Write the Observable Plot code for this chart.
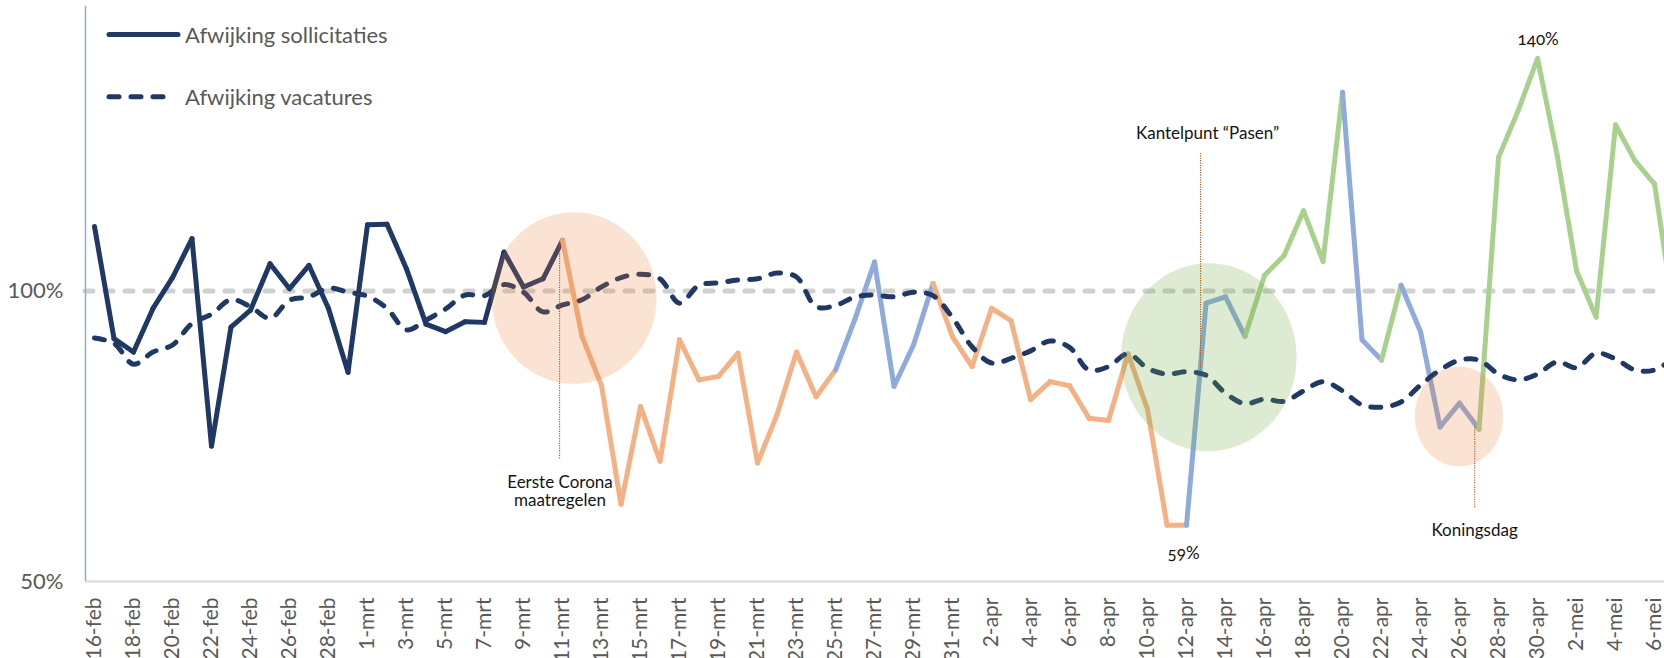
<!DOCTYPE html>
<html>
<head>
<meta charset="utf-8">
<script src="https://cdn.jsdelivr.net/npm/d3@7"></script>
<script src="https://cdn.jsdelivr.net/npm/@observablehq/plot@0.6"></script>
<style>
  html, body { margin: 0; padding: 0; background: #ffffff; }
  #wrap { position: relative; width: 1664px; height: 658px; overflow: hidden; background: #fff; }
  #legend { position: absolute; left: 0; top: 0; }
</style>
</head>
<body>
<div id="wrap">
  <div id="chart"></div>
  <svg id="legend" width="440" height="125"></svg>
</div>
<script>
// ---------- data ----------
const startDatum = "2020-02-16";
const maanden = ["jan", "feb", "mrt", "apr", "mei"];

// Afwijking sollicitaties (%), one value per day from 16-feb
const sollicitaties = [
  111.1, 91.8, 89.5, 97.0, 102.3, 109.0, 73.3, 93.8, 96.7, 104.7,
  100.4, 104.4, 97.0, 86.0, 111.4, 111.5, 103.8, 94.3, 93.0, 94.7,
  94.6, 106.7, 100.7, 102.1, 108.7, 92.2, 83.7, 63.3, 80.1, 70.7,
  91.6, 84.7, 85.3, 89.3, 70.4, 78.7, 89.5, 81.8, 86.4, 95.2,
  105.0, 83.6, 90.7, 101.3, 92.1, 87.0, 97.0, 94.9, 81.3, 84.4,
  83.7, 78.1, 77.7, 89.2, 79.6, 59.7, 59.7, 97.9, 99.0, 92.2,
  102.7, 106.1, 113.8, 105.1, 134.2, 91.6, 88.1, 101.0, 93.0, 76.6,
  80.7, 76.2, 123.0, 131.0, 140.0, 123.5, 103.5, 95.5, 128.6, 122.4,
  118.4, 96.0
];

// Afwijking vacatures (%)
const vacatures = [
  91.9, 91.0, 87.4, 89.5, 90.7, 94.4, 96.0, 98.5, 97.3, 95.3,
  98.4, 99.0, 100.5, 99.8, 99.1, 97.0, 93.3, 95.0, 96.9, 99.3,
  99.2, 101.1, 99.8, 96.4, 97.6, 98.5, 100.7, 102.3, 102.9, 102.1,
  97.9, 101.0, 101.4, 101.9, 102.1, 103.1, 102.4, 97.3, 97.5, 99.0,
  99.3, 99.0, 99.8, 99.2, 95.4, 90.4, 87.6, 88.4, 89.7, 91.4,
  90.3, 86.4, 87.0, 89.2, 86.7, 85.7, 86.1, 85.5, 82.4, 80.6,
  81.4, 81.0, 82.8, 84.4, 82.8, 80.4, 80.0, 80.9, 83.8, 86.4,
  88.1, 88.1, 85.7, 84.7, 85.7, 87.8, 86.8, 89.3, 88.3, 86.4,
  86.4, 88.5
];

// phase of each segment of the sollicitaties line (n = voor, o = daling, b = omslag, g = stijging)
const fase = (
  "nnnnnnnnnnnnnnnnnnnnnnnn" +
  "oooooooooooooo" +
  "bbbbb" +
  "ooooooooooooo" +
  "bbb" +
  "ggggg" +
  "bb" +
  "g" +
  "bbbb" +
  "gggggggggg"
).split("");
const faseDomein = ["n", "o", "b", "g"];
const faseKleuren = ["#1F3864", "#F4B183", "#8FAADC", "#A9D18E"];

const yTicks = [50, 100];
const xTicks = d3.range(0, 81, 2);

// highlighted areas (day index, value)
const cirkels = [
  { dag: 24.59, waarde: 98.8 },   // Eerste Corona maatregelen
  { dag: 57.14, waarde: 88.6 },   // Pasen
  { dag: 69.97, waarde: 78.4 }    // Koningsdag
];
// annotation leader lines
const lijnen = [
  { dag: 23.85, van: 71.1, tot: 108.7 },
  { dag: 56.72, van: 86.3, tot: 123.7 },
  { dag: 70.78, van: 62.7, tot: 76.8 }
];
// annotation texts
const annotaties = [
  { dag: 23.87, waarde: 65.5, tekst: "Eerste Corona\nmaatregelen" },
  { dag: 57.08, waarde: 127.1, tekst: "Kantelpunt \u201CPasen\u201D" },
  { dag: 55.85, waarde: 54.9, tekst: "59%" },
  { dag: 74.03, waarde: 143.3, tekst: "140%" },
  { dag: 70.77, waarde: 58.9, tekst: "Koningsdag" }
];

// ---------- derived tables ----------
const datumLabel = i => {
  const d = d3.utcDay.offset(new Date(startDatum), i);
  return `${d.getUTCDate()}-${maanden[d.getUTCMonth()]}`;
};
const vacData = vacatures.map((v, i) => ({ dag: i, waarde: v }));
const segmenten = fase.map((f, i) => ({
  x1: i, y1: sollicitaties[i], x2: i + 1, y2: sollicitaties[i + 1], fase: f
}));

function ellips(aspect) {
  const k = 0.5522847498;
  return {
    draw(context, size) {
      const ry = Math.sqrt(size / Math.PI), rx = ry * aspect;
      context.moveTo(rx, 0);
      context.bezierCurveTo(rx, ry * k, rx * k, ry, 0, ry);
      context.bezierCurveTo(-rx * k, ry, -rx, ry * k, -rx, 0);
      context.bezierCurveTo(-rx, -ry * k, -rx * k, -ry, 0, -ry);
      context.bezierCurveTo(rx * k, -ry, rx, -ry * k, rx, 0);
      context.closePath();
    }
  };
}

const FONT = "Lato, 'Open Sans', 'DejaVu Sans', sans-serif";
const xDomain = [-0.4615, 80.51];

const chart = Plot.plot({
  width: 1664,
  height: 658,
  marginLeft: 85,
  marginRight: 0,
  marginTop: 0,
  marginBottom: 77,
  style: { fontFamily: FONT, background: "#ffffff", color: "#595959" },
  x: { domain: xDomain },
  y: { domain: [50, 150] },
  color: { domain: faseDomein, range: faseKleuren },
  marks: [
    Plot.ruleY([100], { stroke: "#D0D0D0", strokeWidth: 5, strokeDasharray: "8,12", strokeLinecap: "round" }),
    Plot.ruleY([50], { stroke: "#D9D9D9", strokeWidth: 2 }),
    Plot.ruleX([xDomain[0]], { y1: 50, y2: 149, stroke: "#8FAADC", strokeWidth: 1.5 }),
    Plot.link(segmenten, {
      x1: "x1", y1: "y1", x2: "x2", y2: "y2", stroke: "fase",
      strokeWidth: 5, strokeLinecap: "round", strokeLinejoin: "round", clip: true
    }),
    Plot.line(vacData, {
      x: "dag", y: "waarde", stroke: "#1F3864", strokeWidth: 5,
      strokeDasharray: "10,12", strokeLinecap: "round", curve: "catmull-rom", clip: true
    }),
    Plot.dot([cirkels[0]], { x: "dag", y: "waarde", r: 85.8, symbol: ellips(82.5 / 85.8), fill: "#ED7D31", fillOpacity: 0.21, stroke: "none" }),
    Plot.dot([cirkels[1]], { x: "dag", y: "waarde", r: 94, symbol: ellips(87.7 / 94), fill: "#70AD47", fillOpacity: 0.24, stroke: "none" }),
    Plot.dot([cirkels[2]], { x: "dag", y: "waarde", r: 50, symbol: ellips(44.2 / 50), fill: "#ED7D31", fillOpacity: 0.21, stroke: "none" }),
    Plot.ruleX(lijnen, { x: "dag", y1: "van", y2: "tot", stroke: "#B4541B", strokeWidth: 1.1, strokeDasharray: "1.2,1.2" }),
    Plot.text(annotaties, {
      x: "dag", y: "waarde", text: "tekst", fontSize: 17, fill: "#141414",
      lineHeight: 1.07, fontVariant: "oldstyle-nums"
    }),
    Plot.axisX({
      ticks: xTicks, tickFormat: datumLabel, tickRotate: -90, tickSize: 0,
      tickPadding: 16, fontSize: 21, label: null
    }),
    Plot.axisY({
      ticks: yTicks, tickFormat: d => `${d}%`, tickSize: 0,
      tickPadding: 22, fontSize: 22, label: null
    })
  ]
});
document.getElementById("chart").appendChild(chart);

// ---------- legend (overlaid in the top-left corner) ----------
const leg = d3.select("#legend");
const legItems = [
  { naam: "Afwijking sollicitaties", dash: null, x2: 178, y: 34.5 },
  { naam: "Afwijking vacatures", dash: "10,12", x2: 170, y: 96.7 }
];
legItems.forEach(it => {
  leg.append("line")
    .attr("x1", 109).attr("x2", it.x2).attr("y1", it.y).attr("y2", it.y)
    .attr("stroke", "#1F3864").attr("stroke-width", 5).attr("stroke-linecap", "round")
    .attr("stroke-dasharray", it.dash);
  leg.append("text")
    .attr("x", 185).attr("y", it.y + 8)
    .attr("font-family", FONT).attr("font-size", 22).attr("fill", "#595959")
    .text(it.naam);
});
</script>
</body>
</html>
